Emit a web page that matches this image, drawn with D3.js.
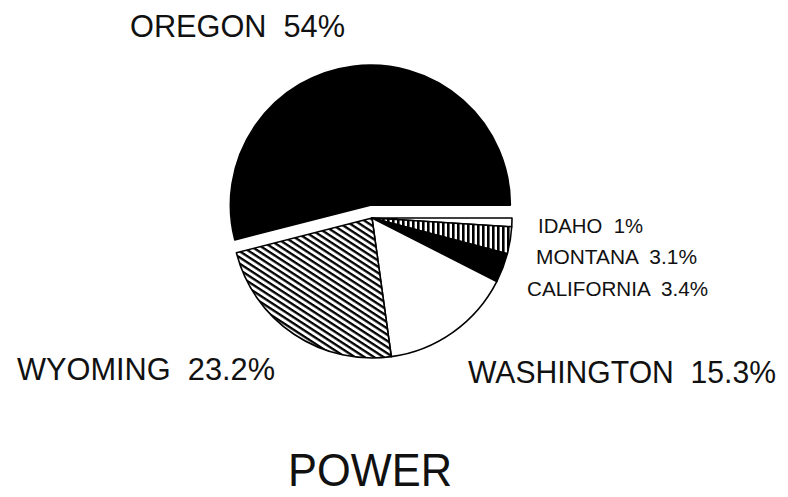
<!DOCTYPE html>
<html>
<head>
<meta charset="utf-8">
<script src="https://cdn.jsdelivr.net/npm/d3@7"></script>
<style>
  body { margin: 0; background: #fff; }
  text { font-family: "Liberation Sans", Arial, sans-serif; fill: #111; }
</style>
</head>
<body>
<div id="chart"></div>
<script>
// data
const states = ['OREGON', 'IDAHO', 'MONTANA', 'CALIFORNIA', 'WASHINGTON', 'WYOMING'];
const shares = [54, 1, 3.1, 3.4, 15.3, 23.2];
const fills = ['black', 'white', 'url(#vert)', 'black', 'white', 'url(#diag)'];
const title = 'POWER';

// where each label sits (start x, baseline y, font size, width)
const labelPos = {
  OREGON:     [130, 37, 32, 215],
  IDAHO:      [538, 233, 20, 105],
  MONTANA:    [536, 264, 20, 161],
  CALIFORNIA: [527, 296, 20, 181],
  WASHINGTON: [468, 383, 31, 308],
  WYOMING:    [17, 380, 31, 258]
};

const width = 788, height = 497;
const cx = 372, cy = 218, radius = 140, explode = 13;

const svg = d3.select('#chart').append('svg')
    .attr('width', width)
    .attr('height', height);

const defs = svg.append('defs');

// diagonal hatch for wyoming
const diag = defs.append('pattern')
    .attr('id', 'diag')
    .attr('patternUnits', 'userSpaceOnUse')
    .attr('width', 5.2).attr('height', 5.2)
    .attr('patternTransform', 'rotate(33)');
diag.append('rect').attr('width', 5.2).attr('height', 5.2).attr('fill', 'white');
diag.append('rect').attr('width', 5.2).attr('height', 2.3).attr('fill', 'black');

// vertical hatch for montana
const vert = defs.append('pattern')
    .attr('id', 'vert')
    .attr('patternUnits', 'userSpaceOnUse')
    .attr('width', 5).attr('height', 5);
vert.append('rect').attr('width', 5).attr('height', 5).attr('fill', 'white');
vert.append('rect').attr('width', 2.6).attr('height', 5).attr('fill', 'black');

const startA = Math.PI / 2 - shares[0] / 100 * 2 * Math.PI;

const pie = d3.pie()
    .sort(null)
    .value(d => d)
    .startAngle(startA)
    .endAngle(startA + 2 * Math.PI);

const arc = d3.arc()
    .innerRadius(0)
    .outerRadius(radius);

const arcs = pie(shares);

const g = svg.append('g')
    .attr('transform', `translate(${cx},${cy})`);

g.selectAll('path.slice')
    .data(arcs)
    .enter().append('path')
    .attr('class', 'slice')
    .attr('d', arc)
    .attr('fill', (d, i) => fills[i])
    .attr('stroke', 'black')
    .attr('stroke-width', 1.6)
    .attr('stroke-linejoin', 'round')
    .attr('transform', (d, i) => {
        if (i !== 0) return null;   // only oregon is pulled out
        const mid = (d.startAngle + d.endAngle) / 2;
        return `translate(${Math.sin(mid) * explode},${-Math.cos(mid) * explode})`;
    });

// labels
svg.selectAll('text.lbl')
    .data(states)
    .enter().append('text')
    .attr('class', 'lbl')
    .attr('xml:space', 'preserve')
    .style('white-space', 'pre')
    .attr('x', d => labelPos[d][0])
    .attr('y', d => labelPos[d][1])
    .attr('font-size', d => labelPos[d][2])
    .attr('textLength', d => labelPos[d][3])
    .attr('lengthAdjust', 'spacingAndGlyphs')
    .text((d, i) => `${d}  ${shares[i]}%`);

svg.append('text')
    .attr('x', 288)
    .attr('y', 486)
    .attr('font-size', 46)
    .attr('textLength', 164)
    .attr('lengthAdjust', 'spacingAndGlyphs')
    .text(title);
</script>
</body>
</html>
